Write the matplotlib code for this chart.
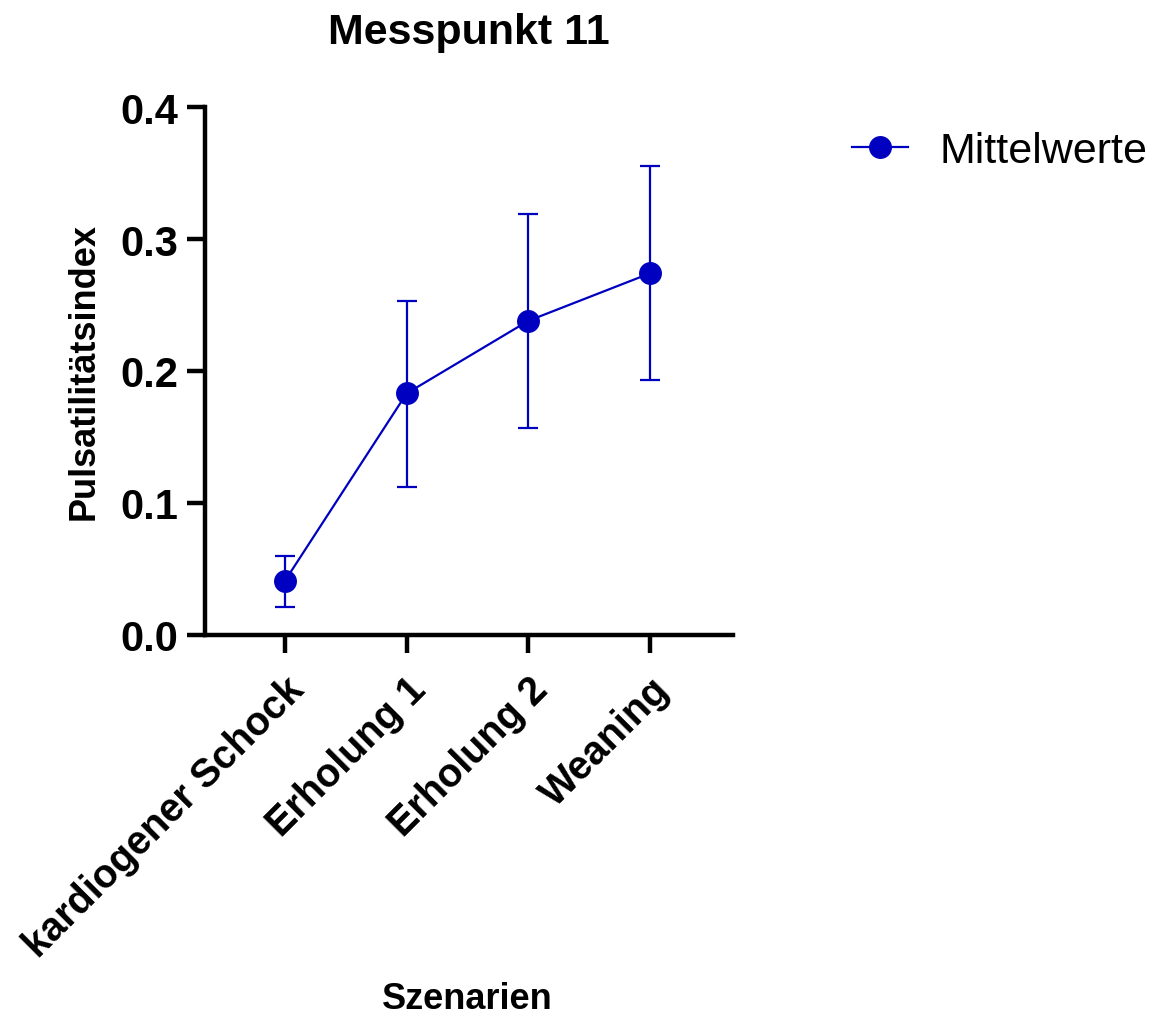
import numpy as np
import matplotlib.pyplot as plt
from matplotlib.lines import Line2D

plt.rcParams['font.family'] = ['Liberation Sans', 'DejaVu Sans']

# Daten
szenarien = ['kardiogener Schock', 'Erholung 1', 'Erholung 2', 'Weaning']
mittelwerte = [0.041, 0.183, 0.238, 0.274]
fehler_oben = [0.060, 0.253, 0.319, 0.355]
fehler_unten = [0.021, 0.112, 0.157, 0.193]

blau = '#0000C0'

fig = plt.figure(figsize=(11.6, 10.2), dpi=100)
ax = fig.add_axes([0.1767, 0.3765, 0.455, 0.5176])

x = np.arange(len(szenarien))
mw = np.array(mittelwerte)
yerr = np.vstack([mw - np.array(fehler_unten), np.array(fehler_oben) - mw])

ax.errorbar(x, mw, yerr=yerr, color=blau, lw=1.6, marker='o', ms=15.5,
            capsize=7.5, capthick=1.6, elinewidth=1.6,
            clip_on=False, zorder=3)

ax.set_xlim(-0.657, 3.68)
ax.set_ylim(0, 0.4)
ax.set_yticks([0.0, 0.1, 0.2, 0.3, 0.4])
ax.set_yticklabels(['0.0', '0.1', '0.2', '0.3', '0.4'])
ax.set_xticks(x)
ax.set_xticklabels(szenarien, rotation=45, ha='right', rotation_mode='anchor')

for lab in ax.get_yticklabels():
    lab.set_fontsize(30)
    lab.set_fontweight('bold')
for lab in ax.get_xticklabels():
    lab.set_fontsize(28.5)
    lab.set_fontweight('bold')

ax.spines['top'].set_visible(False)
ax.spines['right'].set_visible(False)
ax.spines['left'].set_linewidth(3.2)
ax.spines['bottom'].set_linewidth(3.2)
ax.tick_params(axis='both', direction='out', length=13, width=3.2, pad=6)
ax.tick_params(axis='x', pad=12)

ax.set_title('Messpunkt 11', fontsize=31, fontweight='bold', pad=46)
ax.set_ylabel('Pulsatilitätsindex', fontsize=26, fontweight='bold', labelpad=14)
fig.text(0.403, 1 - 1000 / 1020, 'Szenarien', fontsize=26, fontweight='bold',
         ha='center', va='center')

handle = Line2D([], [], color=blau, lw=1.6, marker='o', ms=15.5)
ax.legend([handle], ['Mittelwerte'], loc='center left',
          bbox_to_anchor=(852 / 1160, 1 - 152 / 1020), bbox_transform=fig.transFigure,
          frameon=False, fontsize=31, handlelength=1.3, handletextpad=0.74,
          borderpad=0, borderaxespad=0)

fig.savefig('out.png', dpi=100)
